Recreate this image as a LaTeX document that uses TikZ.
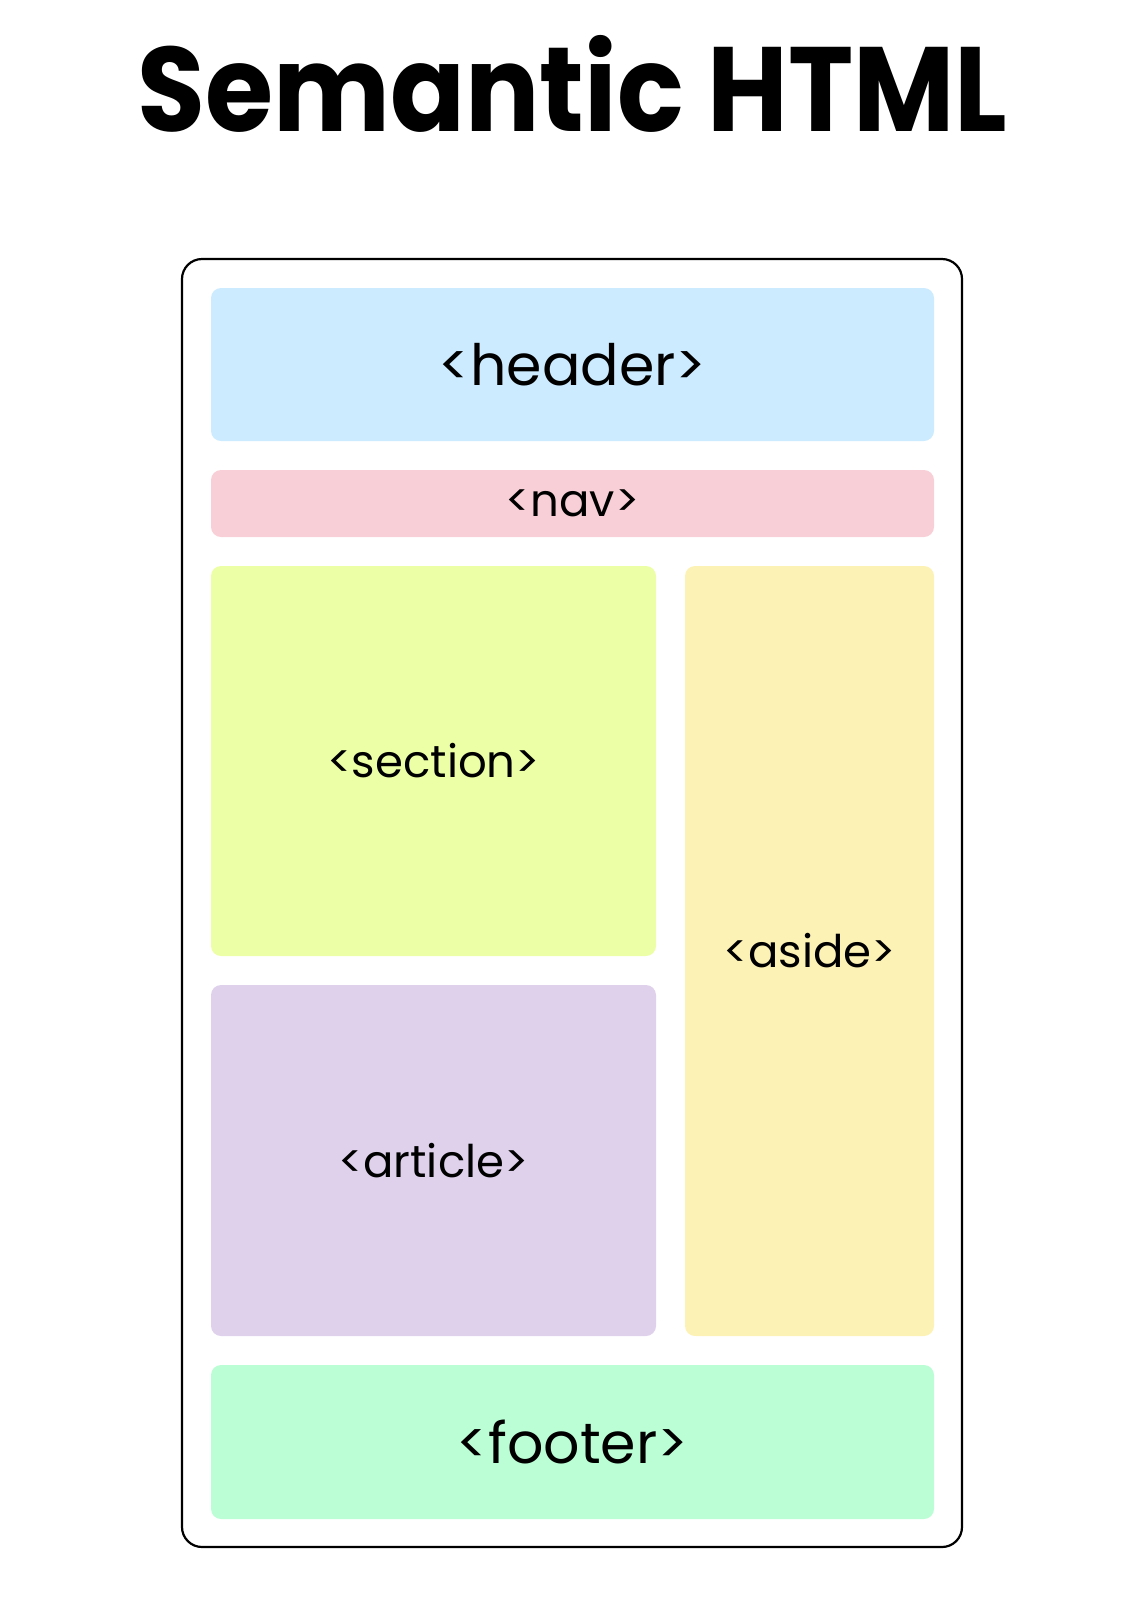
\documentclass[tikz,border=0pt]{standalone}
\usepackage{fontspec}
\setmainfont{Poppins}
\usepackage{xcolor}
\usetikzlibrary{positioning}
\definecolor{headerblue}{HTML}{CCEBFE}
\definecolor{navpink}{HTML}{F9CFD7}
\definecolor{sectiongreen}{HTML}{ECFFA6}
\definecolor{asideyellow}{HTML}{FDF2B6}
\definecolor{articlepurple}{HTML}{DFD1EC}
\definecolor{footergreen}{HTML}{BBFED6}

\begin{document}
\begin{tikzpicture}[
    x=1pt, y=-1pt,
    box/.style={rectangle, rounded corners=10pt, inner sep=0pt},
    small/.style={font=\fontsize{45}{54}\selectfont},
    big/.style={font=\fontsize{57}{68}\selectfont}
]
  \useasboundingbox (0,0) rectangle (1136,1615);

  % title
  \node (title) at (572.5,84) {\scalebox{0.92}[1]{\fontsize{120}{136}\selectfont\bfseries Semantic HTML}};

  % frame
  \node[box, draw, line width=2.2pt, rounded corners=20pt,
        minimum width=780pt, minimum height=1288pt] (page) at (572,903) {};

  % nodes
  \node[box, big, fill=headerblue, minimum width=723pt, minimum height=153pt]
    (header) at (572.5,364.5) {<header>};
  \node[box, small, fill=navpink, minimum width=723pt, minimum height=67pt]
    (nav) at (572.5,503.5) {<nav>};
  \node[box, small, fill=sectiongreen, minimum width=445pt, minimum height=390pt]
    (section) at (433.5,761) {<section>};
  \node[box, small, fill=articlepurple, minimum width=445pt, minimum height=351pt]
    (article) at (433.5,1160.5) {<article>};
  \node[box, small, fill=asideyellow, minimum width=249pt, minimum height=770pt]
    (aside) at (809.5,951) {<aside>};
  \node[box, big, fill=footergreen, minimum width=723pt, minimum height=154pt]
    (footer) at (572.5,1442) {<footer>};
\end{tikzpicture}
\end{document}
